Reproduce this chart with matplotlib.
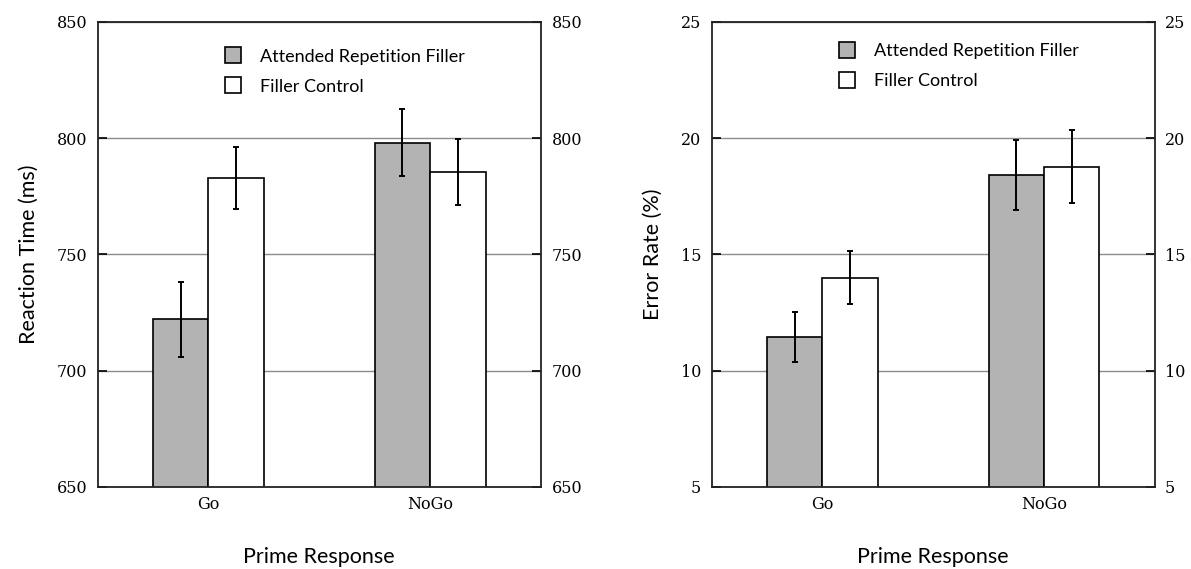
import matplotlib
matplotlib.use('Agg')
import matplotlib.pyplot as plt
from matplotlib.lines import Line2D
import numpy as np

categories = ['Go', 'NoGo']
series_names = ['Attended Repetition Filler', 'Filler Control']
rt_attended = [722, 798]
rt_attended_err = [16, 14.4]
rt_control = [783, 785.6]
rt_control_err = [13.4, 14.2]
er_attended = [11.45, 18.4]
er_attended_err = [1.08, 1.5]
er_control = [14.0, 18.77]
er_control_err = [1.13, 1.58]
rt_ticks = [650, 700, 750, 800, 850]
er_ticks = [5, 10, 15, 20, 25]

GRAY = '#b3b3b3'
SANS = ['Lato', 'DejaVu Sans']
SERIF = ['DejaVu Serif']

fig = plt.figure(figsize=(11.91, 5.69), dpi=100)
ax1 = fig.add_axes([97.5 / 1191, 1 - 486.7 / 569, 443.5 / 1191, 464.7 / 569])
ax2 = fig.add_axes([711.7 / 1191, 1 - 486.7 / 569, 443.0 / 1191, 464.7 / 569])


def draw(ax, att, att_err, ctl, ctl_err, ticks, ylabel, leg_y):
    x = np.arange(len(categories))
    w = 0.25
    ax.bar(x - w / 2, att, w, bottom=0, color=GRAY, edgecolor='black', linewidth=1.2, zorder=2)
    ax.bar(x + w / 2, ctl, w, color='white', edgecolor='black', linewidth=1.2, zorder=2)
    ax.errorbar(x - w / 2, att, yerr=att_err, fmt='none', ecolor='black', elinewidth=1.4,
                capsize=2.5, capthick=1.4, zorder=3)
    ax.errorbar(x + w / 2, ctl, yerr=ctl_err, fmt='none', ecolor='black', elinewidth=1.4,
                capsize=2.5, capthick=1.4, zorder=3)
    ax.set_xlim(-0.5, 1.5)
    ax.set_ylim(ticks[0], ticks[-1])
    ax.set_yticks(ticks)
    ax.set_yticklabels([str(t) for t in ticks], family=SERIF, fontsize=11.5)
    ax.set_xticks(x)
    ax.set_xticklabels(categories, family=SERIF, fontsize=11.5)
    ax.tick_params(axis='x', length=0, pad=7)
    ax.tick_params(axis='y', direction='in', left=True, right=True, labelleft=True,
                   labelright=True, length=6.5, width=1.2, pad=7.5)
    ax.yaxis.grid(True, color='#8c8c8c', linewidth=1.0)
    ax.set_axisbelow(True)
    for s in ax.spines.values():
        s.set_linewidth(1.3)
        s.set_color('#222222')
    ax.set_ylabel(ylabel, family=SANS, fontsize=15.5, labelpad=13)
    ax.set_xlabel('Prime Response', family=SANS, fontsize=15.5, labelpad=24)
    handles = [
        Line2D([], [], marker='s', markersize=11, markerfacecolor=GRAY, markeredgecolor='black',
               markeredgewidth=1.2, linestyle='none'),
        Line2D([], [], marker='s', markersize=11, markerfacecolor='white', markeredgecolor='black',
               markeredgewidth=1.2, linestyle='none'),
    ]
    ax.legend(handles, series_names, loc='center left', bbox_to_anchor=(0.285, leg_y),
              frameon=False, prop={'family': SANS, 'size': 13}, handlelength=1.0,
              handletextpad=1.0, labelspacing=0.78, borderpad=0, borderaxespad=0)


draw(ax1, rt_attended, rt_attended_err, rt_control, rt_control_err, rt_ticks,
     'Reaction Time (ms)', 0.893)
draw(ax2, er_attended, er_attended_err, er_control, er_control_err, er_ticks,
     'Error Rate (%)', 0.905)

fig.savefig('out.png', dpi=100)
